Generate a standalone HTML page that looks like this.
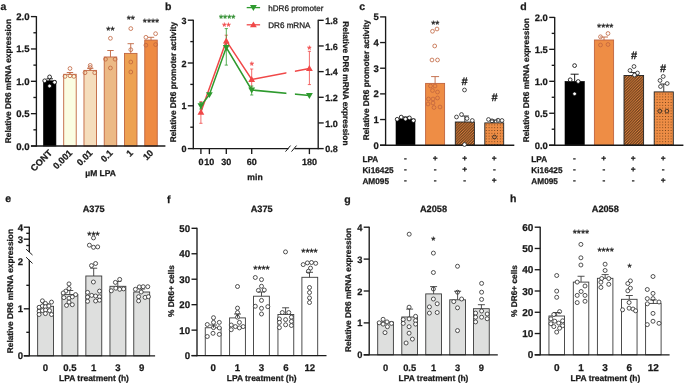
<!DOCTYPE html>
<html><head><meta charset="utf-8"><style>
html,body{margin:0;padding:0;background:#fff;}
svg{display:block;filter:blur(0.3px);}
text{font-family:"Liberation Sans", sans-serif;text-rendering:geometricPrecision;}
</style></head><body>
<svg width="685" height="384" viewBox="0 0 685 384">
<defs>
<pattern id="hatch" patternUnits="userSpaceOnUse" width="2.75" height="2.75">
<rect width="2.75" height="2.75" fill="#4a2a12"/>
<path d="M-0.7,3.45 L3.45,-0.7 M-0.7,0.7 L0.7,-0.7 M2.05,3.45 L3.45,2.05" stroke="#ec8c44" stroke-width="1.0"/></pattern>
<pattern id="dots" patternUnits="userSpaceOnUse" width="2.8" height="2.8" x="0.5" y="0.3">
<rect width="2.8" height="2.8" fill="#ee8d45"/><circle cx="1.4" cy="1.4" r="0.5" fill="#5a3210"/></pattern>
</defs>
<rect width="685" height="384" fill="#fff"/>
<text x="0.60" y="9.90" font-size="10.5" font-weight="bold" text-anchor="start" fill="#1a1a1a" stroke="#1a1a1a" stroke-width="0.25" >a</text>
<line x1="36.40" y1="16.10" x2="36.40" y2="146.55" stroke="#1a1a1a" stroke-width="1.35" />
<line x1="30.90" y1="146.00" x2="36.40" y2="146.00" stroke="#1a1a1a" stroke-width="1.35" />
<text x="29.50" y="149.50" font-size="9.6" font-weight="bold" text-anchor="end" fill="#1a1a1a" stroke="#1a1a1a" stroke-width="0.25" >0.0</text>
<line x1="30.90" y1="113.65" x2="36.40" y2="113.65" stroke="#1a1a1a" stroke-width="1.35" />
<text x="29.50" y="117.15" font-size="9.6" font-weight="bold" text-anchor="end" fill="#1a1a1a" stroke="#1a1a1a" stroke-width="0.25" >0.5</text>
<line x1="30.90" y1="81.30" x2="36.40" y2="81.30" stroke="#1a1a1a" stroke-width="1.35" />
<text x="29.50" y="84.80" font-size="9.6" font-weight="bold" text-anchor="end" fill="#1a1a1a" stroke="#1a1a1a" stroke-width="0.25" >1.0</text>
<line x1="30.90" y1="48.95" x2="36.40" y2="48.95" stroke="#1a1a1a" stroke-width="1.35" />
<text x="29.50" y="52.45" font-size="9.6" font-weight="bold" text-anchor="end" fill="#1a1a1a" stroke="#1a1a1a" stroke-width="0.25" >1.5</text>
<line x1="30.90" y1="16.60" x2="36.40" y2="16.60" stroke="#1a1a1a" stroke-width="1.35" />
<text x="29.50" y="20.10" font-size="9.6" font-weight="bold" text-anchor="end" fill="#1a1a1a" stroke="#1a1a1a" stroke-width="0.25" >2.0</text>
<line x1="33.40" y1="129.82" x2="36.40" y2="129.82" stroke="#1a1a1a" stroke-width="1.35" />
<line x1="33.40" y1="97.47" x2="36.40" y2="97.47" stroke="#1a1a1a" stroke-width="1.35" />
<line x1="33.40" y1="65.12" x2="36.40" y2="65.12" stroke="#1a1a1a" stroke-width="1.35" />
<line x1="33.40" y1="32.77" x2="36.40" y2="32.77" stroke="#1a1a1a" stroke-width="1.35" />
<text x="10.80" y="81.10" font-size="8.3" font-weight="bold" text-anchor="middle" fill="#1a1a1a" stroke="#1a1a1a" stroke-width="0.25" transform="rotate(-90 10.80 81.10)" >Relative DR6 mRNA expression</text>
<rect x="43.45" y="80.80" width="12.50" height="65.20" fill="#000" stroke="#000" stroke-width="0.6"/>
<line x1="49.70" y1="78.80" x2="49.70" y2="80.80" stroke="#000" stroke-width="0.9" />
<line x1="46.50" y1="78.80" x2="52.90" y2="78.80" stroke="#000" stroke-width="0.9" />
<rect x="63.71" y="74.30" width="12.50" height="71.70" fill="#fbfde2" stroke="#c0643f" stroke-width="0.9"/>
<line x1="69.96" y1="72.50" x2="69.96" y2="74.30" stroke="#c0643f" stroke-width="0.9" />
<line x1="66.76" y1="72.50" x2="73.16" y2="72.50" stroke="#c0643f" stroke-width="0.9" />
<rect x="83.97" y="70.40" width="12.50" height="75.60" fill="#f5ddbc" stroke="#c0643f" stroke-width="0.9"/>
<line x1="90.22" y1="68.30" x2="90.22" y2="70.40" stroke="#c0643f" stroke-width="0.9" />
<line x1="87.02" y1="68.30" x2="93.42" y2="68.30" stroke="#c0643f" stroke-width="0.9" />
<rect x="104.23" y="57.00" width="12.50" height="89.00" fill="#ecb985" stroke="#c0643f" stroke-width="0.9"/>
<line x1="110.48" y1="50.50" x2="110.48" y2="57.00" stroke="#c0643f" stroke-width="0.9" />
<line x1="107.28" y1="50.50" x2="113.68" y2="50.50" stroke="#c0643f" stroke-width="0.9" />
<rect x="124.49" y="53.40" width="12.50" height="92.60" fill="#eda152" stroke="#c0643f" stroke-width="0.9"/>
<line x1="130.74" y1="43.70" x2="130.74" y2="53.40" stroke="#c0643f" stroke-width="0.9" />
<line x1="127.54" y1="43.70" x2="133.94" y2="43.70" stroke="#c0643f" stroke-width="0.9" />
<rect x="144.75" y="40.10" width="12.50" height="105.90" fill="#ee8a43" stroke="#c0643f" stroke-width="0.9"/>
<line x1="151.00" y1="37.30" x2="151.00" y2="40.10" stroke="#c0643f" stroke-width="0.9" />
<line x1="147.80" y1="37.30" x2="154.20" y2="37.30" stroke="#c0643f" stroke-width="0.9" />
<circle cx="49.60" cy="76.90" r="1.9" fill="#fff" stroke="#000" stroke-width="0.8"/>
<circle cx="44.70" cy="80.80" r="1.9" fill="#fff" stroke="#000" stroke-width="0.8"/>
<circle cx="54.60" cy="82.30" r="1.9" fill="#fff" stroke="#000" stroke-width="0.8"/>
<circle cx="49.60" cy="86.00" r="1.9" fill="#fff" stroke="#000" stroke-width="0.8"/>
<circle cx="70.00" cy="68.50" r="1.9" fill="none" stroke="#c0643f" stroke-width="0.8"/>
<circle cx="65.00" cy="76.40" r="1.9" fill="none" stroke="#c0643f" stroke-width="0.8"/>
<circle cx="70.00" cy="75.80" r="1.9" fill="none" stroke="#c0643f" stroke-width="0.8"/>
<circle cx="73.90" cy="76.40" r="1.9" fill="none" stroke="#c0643f" stroke-width="0.8"/>
<circle cx="90.20" cy="65.40" r="1.9" fill="none" stroke="#c0643f" stroke-width="0.8"/>
<circle cx="90.20" cy="67.50" r="1.9" fill="none" stroke="#c0643f" stroke-width="0.8"/>
<circle cx="85.00" cy="72.70" r="1.9" fill="none" stroke="#c0643f" stroke-width="0.8"/>
<circle cx="94.70" cy="72.70" r="1.9" fill="none" stroke="#c0643f" stroke-width="0.8"/>
<circle cx="110.40" cy="38.30" r="1.9" fill="none" stroke="#c0643f" stroke-width="0.8"/>
<circle cx="105.50" cy="59.20" r="1.9" fill="none" stroke="#c0643f" stroke-width="0.8"/>
<circle cx="115.10" cy="59.20" r="1.9" fill="none" stroke="#c0643f" stroke-width="0.8"/>
<circle cx="110.40" cy="68.00" r="1.9" fill="none" stroke="#c0643f" stroke-width="0.8"/>
<circle cx="130.80" cy="28.60" r="1.9" fill="none" stroke="#c0643f" stroke-width="0.8"/>
<circle cx="130.80" cy="49.70" r="1.9" fill="none" stroke="#c0643f" stroke-width="0.8"/>
<circle cx="130.80" cy="62.00" r="1.9" fill="none" stroke="#c0643f" stroke-width="0.8"/>
<circle cx="130.80" cy="72.00" r="1.9" fill="none" stroke="#c0643f" stroke-width="0.8"/>
<circle cx="145.90" cy="37.30" r="1.9" fill="none" stroke="#c0643f" stroke-width="0.8"/>
<circle cx="155.60" cy="33.70" r="1.9" fill="none" stroke="#c0643f" stroke-width="0.8"/>
<circle cx="145.90" cy="45.20" r="1.9" fill="none" stroke="#c0643f" stroke-width="0.8"/>
<circle cx="155.60" cy="44.60" r="1.9" fill="none" stroke="#c0643f" stroke-width="0.8"/>
<line x1="31.00" y1="146.00" x2="165.40" y2="146.00" stroke="#1a1a1a" stroke-width="1.35" />
<text x="110.40" y="33.63" font-size="10.5" font-weight="normal" text-anchor="middle" fill="#1a1a1a" stroke="#1a1a1a" stroke-width="0.25" >**</text>
<text x="130.80" y="22.73" font-size="10.5" font-weight="normal" text-anchor="middle" fill="#1a1a1a" stroke="#1a1a1a" stroke-width="0.25" >**</text>
<text x="151.00" y="26.43" font-size="10.5" font-weight="normal" text-anchor="middle" fill="#1a1a1a" stroke="#1a1a1a" stroke-width="0.25" >****</text>
<text x="52.70" y="153.60" font-size="9.2" font-weight="bold" text-anchor="end" fill="#1a1a1a" stroke="#1a1a1a" stroke-width="0.25" transform="rotate(-45 52.70 153.60)" >CONT</text>
<text x="72.96" y="153.60" font-size="9.2" font-weight="bold" text-anchor="end" fill="#1a1a1a" stroke="#1a1a1a" stroke-width="0.25" transform="rotate(-45 72.96 153.60)" >0.001</text>
<text x="93.22" y="153.60" font-size="9.2" font-weight="bold" text-anchor="end" fill="#1a1a1a" stroke="#1a1a1a" stroke-width="0.25" transform="rotate(-45 93.22 153.60)" >0.01</text>
<text x="113.48" y="153.60" font-size="9.2" font-weight="bold" text-anchor="end" fill="#1a1a1a" stroke="#1a1a1a" stroke-width="0.25" transform="rotate(-45 113.48 153.60)" >0.1</text>
<text x="133.74" y="153.60" font-size="9.2" font-weight="bold" text-anchor="end" fill="#1a1a1a" stroke="#1a1a1a" stroke-width="0.25" transform="rotate(-45 133.74 153.60)" >1</text>
<text x="154.00" y="153.60" font-size="9.2" font-weight="bold" text-anchor="end" fill="#1a1a1a" stroke="#1a1a1a" stroke-width="0.25" transform="rotate(-45 154.00 153.60)" >10</text>
<text x="100.60" y="176.00" font-size="8.5" font-weight="bold" text-anchor="middle" fill="#1a1a1a" stroke="#1a1a1a" stroke-width="0.25" >µM LPA</text>
<text x="165.00" y="9.90" font-size="10.5" font-weight="bold" text-anchor="start" fill="#1a1a1a" stroke="#1a1a1a" stroke-width="0.25" >b</text>
<line x1="193.30" y1="19.70" x2="193.30" y2="149.15" stroke="#1a1a1a" stroke-width="1.35" />
<line x1="187.80" y1="148.60" x2="193.30" y2="148.60" stroke="#1a1a1a" stroke-width="1.35" />
<text x="186.40" y="152.10" font-size="9.0" font-weight="bold" text-anchor="end" fill="#1a1a1a" stroke="#1a1a1a" stroke-width="0.25" >0</text>
<line x1="187.80" y1="105.80" x2="193.30" y2="105.80" stroke="#1a1a1a" stroke-width="1.35" />
<text x="186.40" y="109.30" font-size="9.0" font-weight="bold" text-anchor="end" fill="#1a1a1a" stroke="#1a1a1a" stroke-width="0.25" >1</text>
<line x1="187.80" y1="63.00" x2="193.30" y2="63.00" stroke="#1a1a1a" stroke-width="1.35" />
<text x="186.40" y="66.50" font-size="9.0" font-weight="bold" text-anchor="end" fill="#1a1a1a" stroke="#1a1a1a" stroke-width="0.25" >2</text>
<line x1="187.80" y1="20.20" x2="193.30" y2="20.20" stroke="#1a1a1a" stroke-width="1.35" />
<text x="186.40" y="23.70" font-size="9.0" font-weight="bold" text-anchor="end" fill="#1a1a1a" stroke="#1a1a1a" stroke-width="0.25" >3</text>
<line x1="190.30" y1="127.20" x2="193.30" y2="127.20" stroke="#1a1a1a" stroke-width="1.35" />
<line x1="190.30" y1="84.40" x2="193.30" y2="84.40" stroke="#1a1a1a" stroke-width="1.35" />
<line x1="190.30" y1="41.60" x2="193.30" y2="41.60" stroke="#1a1a1a" stroke-width="1.35" />
<line x1="318.20" y1="19.80" x2="318.20" y2="149.15" stroke="#1a1a1a" stroke-width="1.35" />
<line x1="318.20" y1="148.60" x2="323.70" y2="148.60" stroke="#1a1a1a" stroke-width="1.35" />
<text x="325.20" y="152.20" font-size="9.0" font-weight="bold" text-anchor="start" fill="#1a1a1a" stroke="#1a1a1a" stroke-width="0.25" >0.8</text>
<line x1="318.20" y1="122.94" x2="323.70" y2="122.94" stroke="#1a1a1a" stroke-width="1.35" />
<text x="325.20" y="126.54" font-size="9.0" font-weight="bold" text-anchor="start" fill="#1a1a1a" stroke="#1a1a1a" stroke-width="0.25" >1.0</text>
<line x1="318.20" y1="97.28" x2="323.70" y2="97.28" stroke="#1a1a1a" stroke-width="1.35" />
<text x="325.20" y="100.88" font-size="9.0" font-weight="bold" text-anchor="start" fill="#1a1a1a" stroke="#1a1a1a" stroke-width="0.25" >1.2</text>
<line x1="318.20" y1="71.62" x2="323.70" y2="71.62" stroke="#1a1a1a" stroke-width="1.35" />
<text x="325.20" y="75.22" font-size="9.0" font-weight="bold" text-anchor="start" fill="#1a1a1a" stroke="#1a1a1a" stroke-width="0.25" >1.4</text>
<line x1="318.20" y1="45.96" x2="323.70" y2="45.96" stroke="#1a1a1a" stroke-width="1.35" />
<text x="325.20" y="49.56" font-size="9.0" font-weight="bold" text-anchor="start" fill="#1a1a1a" stroke="#1a1a1a" stroke-width="0.25" >1.6</text>
<line x1="318.20" y1="20.30" x2="323.70" y2="20.30" stroke="#1a1a1a" stroke-width="1.35" />
<text x="325.20" y="23.90" font-size="9.0" font-weight="bold" text-anchor="start" fill="#1a1a1a" stroke="#1a1a1a" stroke-width="0.25" >1.8</text>
<line x1="193.30" y1="148.60" x2="288.50" y2="148.60" stroke="#1a1a1a" stroke-width="1.35" />
<line x1="294.50" y1="148.60" x2="318.20" y2="148.60" stroke="#1a1a1a" stroke-width="1.35" />
<line x1="285.50" y1="151.60" x2="290.50" y2="145.60" stroke="#1a1a1a" stroke-width="1.0" />
<line x1="291.50" y1="151.60" x2="296.50" y2="145.60" stroke="#1a1a1a" stroke-width="1.0" />
<line x1="200.90" y1="148.60" x2="200.90" y2="154.10" stroke="#1a1a1a" stroke-width="1.35" />
<line x1="209.37" y1="148.60" x2="209.37" y2="154.10" stroke="#1a1a1a" stroke-width="1.35" />
<line x1="226.30" y1="148.60" x2="226.30" y2="154.10" stroke="#1a1a1a" stroke-width="1.35" />
<line x1="251.70" y1="148.60" x2="251.70" y2="154.10" stroke="#1a1a1a" stroke-width="1.35" />
<line x1="309.40" y1="148.60" x2="309.40" y2="154.10" stroke="#1a1a1a" stroke-width="1.35" />
<text x="200.90" y="165.10" font-size="9.0" font-weight="bold" text-anchor="middle" fill="#1a1a1a" stroke="#1a1a1a" stroke-width="0.25" >0</text>
<text x="209.37" y="165.10" font-size="9.0" font-weight="bold" text-anchor="middle" fill="#1a1a1a" stroke="#1a1a1a" stroke-width="0.25" >10</text>
<text x="226.30" y="165.10" font-size="9.0" font-weight="bold" text-anchor="middle" fill="#1a1a1a" stroke="#1a1a1a" stroke-width="0.25" >30</text>
<text x="251.70" y="165.10" font-size="9.0" font-weight="bold" text-anchor="middle" fill="#1a1a1a" stroke="#1a1a1a" stroke-width="0.25" >60</text>
<text x="309.40" y="165.10" font-size="9.0" font-weight="bold" text-anchor="middle" fill="#1a1a1a" stroke="#1a1a1a" stroke-width="0.25" >180</text>
<text x="255.00" y="179.50" font-size="8.6" font-weight="bold" text-anchor="middle" fill="#1a1a1a" stroke="#1a1a1a" stroke-width="0.25" >min</text>
<text x="176.50" y="82.10" font-size="8.3" font-weight="bold" text-anchor="middle" fill="#1a1a1a" stroke="#1a1a1a" stroke-width="0.25" transform="rotate(-90 176.50 82.10)" >Relative DR6 promoter activity</text>
<text x="343.00" y="83.40" font-size="8.3" font-weight="bold" text-anchor="middle" fill="#1a1a1a" stroke="#1a1a1a" stroke-width="0.25" transform="rotate(90 343.00 83.40)" >Relative DR6 mRNA expression</text>
<polyline points="200.90,112.1 226.30,40.9 251.70,79.4 309.40,68.5" fill="none" stroke="#f04848" stroke-width="1.5"/>
<polyline points="200.90,105.8 209.37,94.7 226.30,47.6 251.70,90.0 309.40,95.5" fill="none" stroke="#2e9a2e" stroke-width="1.5"/>
<rect x="286.4" y="60" width="8.5" height="42" fill="#fff"/>
<line x1="200.90" y1="101.70" x2="200.90" y2="123.30" stroke="#f04848" stroke-width="0.8" />
<line x1="199.30" y1="101.70" x2="202.50" y2="101.70" stroke="#f04848" stroke-width="0.8" />
<line x1="199.30" y1="123.30" x2="202.50" y2="123.30" stroke="#f04848" stroke-width="0.8" />
<line x1="226.30" y1="35.20" x2="226.30" y2="46.00" stroke="#f04848" stroke-width="0.8" />
<line x1="224.70" y1="35.20" x2="227.90" y2="35.20" stroke="#f04848" stroke-width="0.8" />
<line x1="224.70" y1="46.00" x2="227.90" y2="46.00" stroke="#f04848" stroke-width="0.8" />
<line x1="251.70" y1="69.00" x2="251.70" y2="90.00" stroke="#f04848" stroke-width="0.8" />
<line x1="250.10" y1="69.00" x2="253.30" y2="69.00" stroke="#f04848" stroke-width="0.8" />
<line x1="250.10" y1="90.00" x2="253.30" y2="90.00" stroke="#f04848" stroke-width="0.8" />
<line x1="309.40" y1="51.30" x2="309.40" y2="84.60" stroke="#f04848" stroke-width="0.8" />
<line x1="307.80" y1="51.30" x2="311.00" y2="51.30" stroke="#f04848" stroke-width="0.8" />
<line x1="307.80" y1="84.60" x2="311.00" y2="84.60" stroke="#f04848" stroke-width="0.8" />
<line x1="226.30" y1="28.60" x2="226.30" y2="65.10" stroke="#2e9a2e" stroke-width="0.8" />
<line x1="224.70" y1="28.60" x2="227.90" y2="28.60" stroke="#2e9a2e" stroke-width="0.8" />
<line x1="224.70" y1="65.10" x2="227.90" y2="65.10" stroke="#2e9a2e" stroke-width="0.8" />
<line x1="200.90" y1="102.50" x2="200.90" y2="109.00" stroke="#2e9a2e" stroke-width="0.8" />
<line x1="199.30" y1="102.50" x2="202.50" y2="102.50" stroke="#2e9a2e" stroke-width="0.8" />
<line x1="199.30" y1="109.00" x2="202.50" y2="109.00" stroke="#2e9a2e" stroke-width="0.8" />
<line x1="251.70" y1="86.00" x2="251.70" y2="95.00" stroke="#2e9a2e" stroke-width="0.8" />
<line x1="250.10" y1="86.00" x2="253.30" y2="86.00" stroke="#2e9a2e" stroke-width="0.8" />
<line x1="250.10" y1="95.00" x2="253.30" y2="95.00" stroke="#2e9a2e" stroke-width="0.8" />
<path d="M197.50,114.65 L204.30,114.65 L200.90,108.70 Z" fill="#f04848"/>
<path d="M222.90,43.45 L229.70,43.45 L226.30,37.50 Z" fill="#f04848"/>
<path d="M248.30,81.95 L255.10,81.95 L251.70,76.00 Z" fill="#f04848"/>
<path d="M306.00,71.05 L312.80,71.05 L309.40,65.10 Z" fill="#f04848"/>
<path d="M197.50,103.25 L204.30,103.25 L200.90,109.20 Z" fill="#2e9a2e"/>
<path d="M205.97,92.15 L212.77,92.15 L209.37,98.10 Z" fill="#2e9a2e"/>
<path d="M222.90,45.05 L229.70,45.05 L226.30,51.00 Z" fill="#2e9a2e"/>
<path d="M248.30,87.45 L255.10,87.45 L251.70,93.40 Z" fill="#2e9a2e"/>
<path d="M306.00,92.95 L312.80,92.95 L309.40,98.90 Z" fill="#2e9a2e"/>
<text x="227.20" y="21.68" font-size="10.5" font-weight="normal" text-anchor="middle" fill="#2a8a2a" stroke="#2a8a2a" stroke-width="0.25" >****</text>
<text x="226.40" y="30.43" font-size="10.5" font-weight="normal" text-anchor="middle" fill="#f04848" stroke="#f04848" stroke-width="0.25" >**</text>
<text x="251.80" y="69.33" font-size="10.5" font-weight="normal" text-anchor="middle" fill="#f04848" stroke="#f04848" stroke-width="0.25" >*</text>
<text x="309.40" y="52.93" font-size="10.5" font-weight="normal" text-anchor="middle" fill="#f04848" stroke="#f04848" stroke-width="0.25" >*</text>
<line x1="246.70" y1="7.60" x2="260.10" y2="7.60" stroke="#2e9a2e" stroke-width="1.3" />
<path d="M250.00,5.05 L256.80,5.05 L253.40,11.00 Z" fill="#2e9a2e"/>
<text x="268.20" y="11.30" font-size="8.1" font-weight="normal" text-anchor="start" fill="#1a1a1a" stroke="#1a1a1a" stroke-width="0.25" >hDR6 promoter</text>
<line x1="246.70" y1="24.80" x2="260.10" y2="24.80" stroke="#f04848" stroke-width="1.3" />
<path d="M250.00,27.35 L256.80,27.35 L253.40,21.40 Z" fill="#f04848"/>
<text x="268.20" y="28.20" font-size="8.1" font-weight="normal" text-anchor="start" fill="#1a1a1a" stroke="#1a1a1a" stroke-width="0.25" >DR6 mRNA</text>
<text x="359.20" y="9.60" font-size="10.5" font-weight="bold" text-anchor="start" fill="#1a1a1a" stroke="#1a1a1a" stroke-width="0.25" >c</text>
<line x1="385.60" y1="16.40" x2="385.60" y2="145.75" stroke="#1a1a1a" stroke-width="1.35" />
<line x1="380.10" y1="145.20" x2="385.60" y2="145.20" stroke="#1a1a1a" stroke-width="1.35" />
<text x="378.70" y="148.70" font-size="9.5" font-weight="bold" text-anchor="end" fill="#1a1a1a" stroke="#1a1a1a" stroke-width="0.25" >0</text>
<line x1="380.10" y1="119.54" x2="385.60" y2="119.54" stroke="#1a1a1a" stroke-width="1.35" />
<text x="378.70" y="123.04" font-size="9.5" font-weight="bold" text-anchor="end" fill="#1a1a1a" stroke="#1a1a1a" stroke-width="0.25" >1</text>
<line x1="380.10" y1="93.88" x2="385.60" y2="93.88" stroke="#1a1a1a" stroke-width="1.35" />
<text x="378.70" y="97.38" font-size="9.5" font-weight="bold" text-anchor="end" fill="#1a1a1a" stroke="#1a1a1a" stroke-width="0.25" >2</text>
<line x1="380.10" y1="68.22" x2="385.60" y2="68.22" stroke="#1a1a1a" stroke-width="1.35" />
<text x="378.70" y="71.72" font-size="9.5" font-weight="bold" text-anchor="end" fill="#1a1a1a" stroke="#1a1a1a" stroke-width="0.25" >3</text>
<line x1="380.10" y1="42.56" x2="385.60" y2="42.56" stroke="#1a1a1a" stroke-width="1.35" />
<text x="378.70" y="46.06" font-size="9.5" font-weight="bold" text-anchor="end" fill="#1a1a1a" stroke="#1a1a1a" stroke-width="0.25" >4</text>
<line x1="380.10" y1="16.90" x2="385.60" y2="16.90" stroke="#1a1a1a" stroke-width="1.35" />
<text x="378.70" y="20.40" font-size="9.5" font-weight="bold" text-anchor="end" fill="#1a1a1a" stroke="#1a1a1a" stroke-width="0.25" >5</text>
<text x="368.70" y="80.10" font-size="8.3" font-weight="bold" text-anchor="middle" fill="#1a1a1a" stroke="#1a1a1a" stroke-width="0.25" transform="rotate(-90 368.70 80.10)" >Relative DR6 promoter activity</text>
<rect x="396.00" y="119.00" width="19.00" height="26.20" fill="#000" stroke="#000" stroke-width="0.6"/>
<line x1="405.50" y1="117.00" x2="405.50" y2="119.00" stroke="#000" stroke-width="0.9" />
<line x1="401.50" y1="117.00" x2="409.50" y2="117.00" stroke="#000" stroke-width="0.9" />
<rect x="425.60" y="83.40" width="19.00" height="61.80" fill="#ee8d45" stroke="#c0643f" stroke-width="0.9"/>
<line x1="435.10" y1="76.60" x2="435.10" y2="83.40" stroke="#c0643f" stroke-width="0.9" />
<line x1="431.10" y1="76.60" x2="439.10" y2="76.60" stroke="#c0643f" stroke-width="0.9" />
<rect x="455.30" y="122.00" width="19.10" height="23.20" fill="url(#hatch)" stroke="#222" stroke-width="0.9"/>
<line x1="464.85" y1="116.00" x2="464.85" y2="122.00" stroke="#222" stroke-width="0.9" />
<line x1="460.85" y1="116.00" x2="468.85" y2="116.00" stroke="#222" stroke-width="0.9" />
<rect x="484.80" y="122.90" width="18.90" height="22.30" fill="url(#dots)" stroke="#222" stroke-width="0.9"/>
<line x1="494.25" y1="120.00" x2="494.25" y2="122.90" stroke="#222" stroke-width="0.9" />
<line x1="490.25" y1="120.00" x2="498.25" y2="120.00" stroke="#222" stroke-width="0.9" />
<line x1="380.00" y1="145.20" x2="514.30" y2="145.20" stroke="#1a1a1a" stroke-width="1.35" />
<circle cx="397.20" cy="119.30" r="1.9" fill="#fff" stroke="#000" stroke-width="0.8"/>
<circle cx="401.20" cy="117.10" r="1.9" fill="#fff" stroke="#000" stroke-width="0.8"/>
<circle cx="405.50" cy="119.00" r="1.9" fill="#fff" stroke="#000" stroke-width="0.8"/>
<circle cx="409.40" cy="117.90" r="1.9" fill="#fff" stroke="#000" stroke-width="0.8"/>
<circle cx="413.40" cy="120.60" r="1.9" fill="#fff" stroke="#000" stroke-width="0.8"/>
<circle cx="432.50" cy="31.30" r="1.9" fill="none" stroke="#c0643f" stroke-width="0.8"/>
<circle cx="437.00" cy="29.00" r="1.9" fill="none" stroke="#c0643f" stroke-width="0.8"/>
<circle cx="434.70" cy="46.00" r="1.9" fill="none" stroke="#c0643f" stroke-width="0.8"/>
<circle cx="432.00" cy="60.00" r="1.9" fill="none" stroke="#c0643f" stroke-width="0.8"/>
<circle cx="437.50" cy="60.00" r="1.9" fill="none" stroke="#c0643f" stroke-width="0.8"/>
<circle cx="430.50" cy="86.00" r="1.9" fill="none" stroke="#c0643f" stroke-width="0.8"/>
<circle cx="435.00" cy="86.00" r="1.9" fill="none" stroke="#c0643f" stroke-width="0.8"/>
<circle cx="432.50" cy="90.50" r="1.9" fill="none" stroke="#c0643f" stroke-width="0.8"/>
<circle cx="437.50" cy="92.00" r="1.9" fill="none" stroke="#c0643f" stroke-width="0.8"/>
<circle cx="428.50" cy="99.00" r="1.9" fill="none" stroke="#c0643f" stroke-width="0.8"/>
<circle cx="433.00" cy="99.00" r="1.9" fill="none" stroke="#c0643f" stroke-width="0.8"/>
<circle cx="437.50" cy="98.00" r="1.9" fill="none" stroke="#c0643f" stroke-width="0.8"/>
<circle cx="433.00" cy="103.00" r="1.9" fill="none" stroke="#c0643f" stroke-width="0.8"/>
<circle cx="428.00" cy="104.00" r="1.9" fill="none" stroke="#c0643f" stroke-width="0.8"/>
<circle cx="434.00" cy="107.50" r="1.9" fill="none" stroke="#c0643f" stroke-width="0.8"/>
<circle cx="440.00" cy="107.00" r="1.9" fill="none" stroke="#c0643f" stroke-width="0.8"/>
<circle cx="456.50" cy="117.00" r="1.9" fill="#fff" stroke="#222" stroke-width="0.8"/>
<circle cx="461.50" cy="114.50" r="1.9" fill="#fff" stroke="#222" stroke-width="0.8"/>
<circle cx="467.00" cy="118.50" r="1.9" fill="#fff" stroke="#222" stroke-width="0.8"/>
<circle cx="472.30" cy="120.50" r="1.9" fill="#fff" stroke="#222" stroke-width="0.8"/>
<circle cx="464.50" cy="90.00" r="1.9" fill="#fff" stroke="#222" stroke-width="0.8"/>
<circle cx="464.50" cy="144.50" r="1.9" fill="#fff" stroke="#222" stroke-width="0.8"/>
<circle cx="488.50" cy="119.50" r="1.9" fill="none" stroke="#222" stroke-width="0.8"/>
<circle cx="492.00" cy="120.80" r="1.9" fill="none" stroke="#222" stroke-width="0.8"/>
<circle cx="498.00" cy="120.20" r="1.9" fill="none" stroke="#222" stroke-width="0.8"/>
<circle cx="502.00" cy="120.50" r="1.9" fill="none" stroke="#222" stroke-width="0.8"/>
<circle cx="494.50" cy="137.00" r="1.9" fill="none" stroke="#222" stroke-width="0.8"/>
<text x="464.60" y="84.70" font-size="11" font-weight="bold" text-anchor="middle" fill="#1a1a1a" stroke="#1a1a1a" stroke-width="0.25" >#</text>
<text x="494.50" y="100.70" font-size="11" font-weight="bold" text-anchor="middle" fill="#1a1a1a" stroke="#1a1a1a" stroke-width="0.25" >#</text>
<text x="435.30" y="27.93" font-size="10.5" font-weight="normal" text-anchor="middle" fill="#1a1a1a" stroke="#1a1a1a" stroke-width="0.25" >**</text>
<text x="362.40" y="162.40" font-size="8.25" font-weight="bold" text-anchor="start" fill="#1a1a1a" stroke="#1a1a1a" stroke-width="0.25" >LPA</text>
<text x="405.50" y="161.20" font-size="8.3" font-weight="bold" text-anchor="middle" fill="#1a1a1a" stroke="#1a1a1a" stroke-width="0.25" >-</text>
<text x="435.20" y="161.20" font-size="8.3" font-weight="bold" text-anchor="middle" fill="#1a1a1a" stroke="#1a1a1a" stroke-width="0.25" >+</text>
<text x="464.60" y="161.20" font-size="8.3" font-weight="bold" text-anchor="middle" fill="#1a1a1a" stroke="#1a1a1a" stroke-width="0.25" >+</text>
<text x="494.30" y="161.20" font-size="8.3" font-weight="bold" text-anchor="middle" fill="#1a1a1a" stroke="#1a1a1a" stroke-width="0.25" >+</text>
<text x="362.40" y="173.00" font-size="8.25" font-weight="bold" text-anchor="start" fill="#1a1a1a" stroke="#1a1a1a" stroke-width="0.25" >Ki16425</text>
<text x="405.50" y="171.80" font-size="8.3" font-weight="bold" text-anchor="middle" fill="#1a1a1a" stroke="#1a1a1a" stroke-width="0.25" >-</text>
<text x="435.20" y="171.80" font-size="8.3" font-weight="bold" text-anchor="middle" fill="#1a1a1a" stroke="#1a1a1a" stroke-width="0.25" >-</text>
<text x="464.60" y="171.80" font-size="8.3" font-weight="bold" text-anchor="middle" fill="#1a1a1a" stroke="#1a1a1a" stroke-width="0.25" >+</text>
<text x="494.30" y="171.80" font-size="8.3" font-weight="bold" text-anchor="middle" fill="#1a1a1a" stroke="#1a1a1a" stroke-width="0.25" >-</text>
<text x="362.40" y="184.40" font-size="8.25" font-weight="bold" text-anchor="start" fill="#1a1a1a" stroke="#1a1a1a" stroke-width="0.25" >AM095</text>
<text x="405.50" y="183.20" font-size="8.3" font-weight="bold" text-anchor="middle" fill="#1a1a1a" stroke="#1a1a1a" stroke-width="0.25" >-</text>
<text x="435.20" y="183.20" font-size="8.3" font-weight="bold" text-anchor="middle" fill="#1a1a1a" stroke="#1a1a1a" stroke-width="0.25" >-</text>
<text x="464.60" y="183.20" font-size="8.3" font-weight="bold" text-anchor="middle" fill="#1a1a1a" stroke="#1a1a1a" stroke-width="0.25" >-</text>
<text x="494.30" y="183.20" font-size="8.3" font-weight="bold" text-anchor="middle" fill="#1a1a1a" stroke="#1a1a1a" stroke-width="0.25" >+</text>
<text x="520.30" y="9.90" font-size="10.5" font-weight="bold" text-anchor="start" fill="#1a1a1a" stroke="#1a1a1a" stroke-width="0.25" >d</text>
<line x1="554.70" y1="16.90" x2="554.70" y2="145.75" stroke="#1a1a1a" stroke-width="1.35" />
<line x1="549.20" y1="145.20" x2="554.70" y2="145.20" stroke="#1a1a1a" stroke-width="1.35" />
<text x="547.80" y="148.70" font-size="9.45" font-weight="bold" text-anchor="end" fill="#1a1a1a" stroke="#1a1a1a" stroke-width="0.25" >0.0</text>
<line x1="549.20" y1="113.25" x2="554.70" y2="113.25" stroke="#1a1a1a" stroke-width="1.35" />
<text x="547.80" y="116.75" font-size="9.45" font-weight="bold" text-anchor="end" fill="#1a1a1a" stroke="#1a1a1a" stroke-width="0.25" >0.5</text>
<line x1="549.20" y1="81.30" x2="554.70" y2="81.30" stroke="#1a1a1a" stroke-width="1.35" />
<text x="547.80" y="84.80" font-size="9.45" font-weight="bold" text-anchor="end" fill="#1a1a1a" stroke="#1a1a1a" stroke-width="0.25" >1.0</text>
<line x1="549.20" y1="49.35" x2="554.70" y2="49.35" stroke="#1a1a1a" stroke-width="1.35" />
<text x="547.80" y="52.85" font-size="9.45" font-weight="bold" text-anchor="end" fill="#1a1a1a" stroke="#1a1a1a" stroke-width="0.25" >1.5</text>
<line x1="549.20" y1="17.40" x2="554.70" y2="17.40" stroke="#1a1a1a" stroke-width="1.35" />
<text x="547.80" y="20.90" font-size="9.45" font-weight="bold" text-anchor="end" fill="#1a1a1a" stroke="#1a1a1a" stroke-width="0.25" >2.0</text>
<line x1="551.70" y1="129.22" x2="554.70" y2="129.22" stroke="#1a1a1a" stroke-width="1.35" />
<line x1="551.70" y1="97.27" x2="554.70" y2="97.27" stroke="#1a1a1a" stroke-width="1.35" />
<line x1="551.70" y1="65.33" x2="554.70" y2="65.33" stroke="#1a1a1a" stroke-width="1.35" />
<line x1="551.70" y1="33.38" x2="554.70" y2="33.38" stroke="#1a1a1a" stroke-width="1.35" />
<text x="529.50" y="80.20" font-size="8.3" font-weight="bold" text-anchor="middle" fill="#1a1a1a" stroke="#1a1a1a" stroke-width="0.25" transform="rotate(-90 529.50 80.20)" >Relative DR6 mRNA expression</text>
<rect x="565.00" y="81.40" width="19.30" height="63.80" fill="#000" stroke="#000" stroke-width="0.6"/>
<line x1="574.65" y1="74.20" x2="574.65" y2="81.40" stroke="#000" stroke-width="0.9" />
<line x1="570.65" y1="74.20" x2="578.65" y2="74.20" stroke="#000" stroke-width="0.9" />
<rect x="594.40" y="40.00" width="19.20" height="105.20" fill="#ee8d45" stroke="#c0643f" stroke-width="0.9"/>
<line x1="604.00" y1="37.00" x2="604.00" y2="40.00" stroke="#c0643f" stroke-width="0.9" />
<line x1="600.00" y1="37.00" x2="608.00" y2="37.00" stroke="#c0643f" stroke-width="0.9" />
<rect x="624.00" y="75.50" width="19.60" height="69.70" fill="url(#hatch)" stroke="#222" stroke-width="0.9"/>
<line x1="633.80" y1="72.50" x2="633.80" y2="75.50" stroke="#222" stroke-width="0.9" />
<line x1="629.80" y1="72.50" x2="637.80" y2="72.50" stroke="#222" stroke-width="0.9" />
<rect x="654.20" y="91.90" width="19.10" height="53.30" fill="url(#dots)" stroke="#222" stroke-width="0.9"/>
<line x1="663.75" y1="84.00" x2="663.75" y2="91.90" stroke="#222" stroke-width="0.9" />
<line x1="659.75" y1="84.00" x2="667.75" y2="84.00" stroke="#222" stroke-width="0.9" />
<line x1="549.00" y1="145.20" x2="683.40" y2="145.20" stroke="#1a1a1a" stroke-width="1.35" />
<circle cx="574.60" cy="65.60" r="1.9" fill="#fff" stroke="#000" stroke-width="0.8"/>
<circle cx="570.20" cy="79.80" r="1.9" fill="#fff" stroke="#000" stroke-width="0.8"/>
<circle cx="578.20" cy="81.50" r="1.9" fill="#fff" stroke="#000" stroke-width="0.8"/>
<circle cx="574.60" cy="93.80" r="1.9" fill="#fff" stroke="#000" stroke-width="0.8"/>
<circle cx="600.50" cy="36.80" r="1.9" fill="none" stroke="#c0643f" stroke-width="0.8"/>
<circle cx="608.00" cy="33.50" r="1.9" fill="none" stroke="#c0643f" stroke-width="0.8"/>
<circle cx="600.50" cy="45.00" r="1.9" fill="none" stroke="#c0643f" stroke-width="0.8"/>
<circle cx="608.00" cy="44.50" r="1.9" fill="none" stroke="#c0643f" stroke-width="0.8"/>
<circle cx="634.00" cy="66.50" r="1.9" fill="#fff" stroke="#222" stroke-width="0.8"/>
<circle cx="630.00" cy="70.50" r="1.9" fill="#fff" stroke="#222" stroke-width="0.8"/>
<circle cx="637.50" cy="73.00" r="1.9" fill="#fff" stroke="#222" stroke-width="0.8"/>
<circle cx="634.50" cy="75.00" r="1.9" fill="#fff" stroke="#222" stroke-width="0.8"/>
<circle cx="663.20" cy="76.50" r="1.9" fill="#fff" stroke="#222" stroke-width="0.8"/>
<circle cx="660.00" cy="80.50" r="1.9" fill="#fff" stroke="#222" stroke-width="0.8"/>
<circle cx="667.20" cy="83.50" r="1.9" fill="#fff" stroke="#222" stroke-width="0.8"/>
<circle cx="660.50" cy="86.50" r="1.9" fill="#fff" stroke="#222" stroke-width="0.8"/>
<circle cx="659.80" cy="111.10" r="1.9" fill="none" stroke="#222" stroke-width="0.8"/>
<circle cx="666.90" cy="111.10" r="1.9" fill="none" stroke="#222" stroke-width="0.8"/>
<text x="634.00" y="58.50" font-size="11" font-weight="bold" text-anchor="middle" fill="#1a1a1a" stroke="#1a1a1a" stroke-width="0.25" >#</text>
<text x="663.00" y="72.00" font-size="11" font-weight="bold" text-anchor="middle" fill="#1a1a1a" stroke="#1a1a1a" stroke-width="0.25" >#</text>
<text x="605.30" y="30.73" font-size="10.5" font-weight="normal" text-anchor="middle" fill="#1a1a1a" stroke="#1a1a1a" stroke-width="0.25" >****</text>
<text x="531.30" y="162.40" font-size="8.25" font-weight="bold" text-anchor="start" fill="#1a1a1a" stroke="#1a1a1a" stroke-width="0.25" >LPA</text>
<text x="574.50" y="161.20" font-size="8.3" font-weight="bold" text-anchor="middle" fill="#1a1a1a" stroke="#1a1a1a" stroke-width="0.25" >-</text>
<text x="603.80" y="161.20" font-size="8.3" font-weight="bold" text-anchor="middle" fill="#1a1a1a" stroke="#1a1a1a" stroke-width="0.25" >+</text>
<text x="633.20" y="161.20" font-size="8.3" font-weight="bold" text-anchor="middle" fill="#1a1a1a" stroke="#1a1a1a" stroke-width="0.25" >+</text>
<text x="663.10" y="161.20" font-size="8.3" font-weight="bold" text-anchor="middle" fill="#1a1a1a" stroke="#1a1a1a" stroke-width="0.25" >+</text>
<text x="531.30" y="173.00" font-size="8.25" font-weight="bold" text-anchor="start" fill="#1a1a1a" stroke="#1a1a1a" stroke-width="0.25" >Ki16425</text>
<text x="574.50" y="171.80" font-size="8.3" font-weight="bold" text-anchor="middle" fill="#1a1a1a" stroke="#1a1a1a" stroke-width="0.25" >-</text>
<text x="603.80" y="171.80" font-size="8.3" font-weight="bold" text-anchor="middle" fill="#1a1a1a" stroke="#1a1a1a" stroke-width="0.25" >-</text>
<text x="633.20" y="171.80" font-size="8.3" font-weight="bold" text-anchor="middle" fill="#1a1a1a" stroke="#1a1a1a" stroke-width="0.25" >+</text>
<text x="663.10" y="171.80" font-size="8.3" font-weight="bold" text-anchor="middle" fill="#1a1a1a" stroke="#1a1a1a" stroke-width="0.25" >-</text>
<text x="531.30" y="184.40" font-size="8.25" font-weight="bold" text-anchor="start" fill="#1a1a1a" stroke="#1a1a1a" stroke-width="0.25" >AM095</text>
<text x="574.50" y="183.20" font-size="8.3" font-weight="bold" text-anchor="middle" fill="#1a1a1a" stroke="#1a1a1a" stroke-width="0.25" >-</text>
<text x="603.80" y="183.20" font-size="8.3" font-weight="bold" text-anchor="middle" fill="#1a1a1a" stroke="#1a1a1a" stroke-width="0.25" >-</text>
<text x="633.20" y="183.20" font-size="8.3" font-weight="bold" text-anchor="middle" fill="#1a1a1a" stroke="#1a1a1a" stroke-width="0.25" >-</text>
<text x="663.10" y="183.20" font-size="8.3" font-weight="bold" text-anchor="middle" fill="#1a1a1a" stroke="#1a1a1a" stroke-width="0.25" >+</text>
<text x="5.30" y="202.30" font-size="10.5" font-weight="bold" text-anchor="start" fill="#1a1a1a" stroke="#1a1a1a" stroke-width="0.25" >e</text>
<line x1="29.30" y1="259.80" x2="29.30" y2="356.35" stroke="#1a1a1a" stroke-width="1.35" />
<line x1="29.30" y1="226.70" x2="29.30" y2="252.00" stroke="#1a1a1a" stroke-width="1.35" />
<line x1="23.80" y1="355.80" x2="29.30" y2="355.80" stroke="#1a1a1a" stroke-width="1.35" />
<text x="23.00" y="359.40" font-size="9.6" font-weight="bold" text-anchor="end" fill="#1a1a1a" stroke="#1a1a1a" stroke-width="0.25" >0</text>
<line x1="23.80" y1="308.80" x2="29.30" y2="308.80" stroke="#1a1a1a" stroke-width="1.35" />
<text x="23.00" y="312.40" font-size="9.6" font-weight="bold" text-anchor="end" fill="#1a1a1a" stroke="#1a1a1a" stroke-width="0.25" >1</text>
<text x="23.00" y="265.40" font-size="9.6" font-weight="bold" text-anchor="end" fill="#1a1a1a" stroke="#1a1a1a" stroke-width="0.25" >2</text>
<line x1="26.30" y1="332.30" x2="29.30" y2="332.30" stroke="#1a1a1a" stroke-width="1.35" />
<line x1="26.30" y1="285.30" x2="29.30" y2="285.30" stroke="#1a1a1a" stroke-width="1.35" />
<line x1="23.80" y1="227.20" x2="29.30" y2="227.20" stroke="#1a1a1a" stroke-width="1.35" />
<text x="23.00" y="230.80" font-size="9.6" font-weight="bold" text-anchor="end" fill="#1a1a1a" stroke="#1a1a1a" stroke-width="0.25" >4</text>
<line x1="23.80" y1="239.20" x2="29.30" y2="239.20" stroke="#1a1a1a" stroke-width="1.35" />
<text x="23.00" y="242.80" font-size="9.6" font-weight="bold" text-anchor="end" fill="#1a1a1a" stroke="#1a1a1a" stroke-width="0.25" >3</text>
<line x1="26.30" y1="233.30" x2="29.30" y2="233.30" stroke="#1a1a1a" stroke-width="1.35" />
<line x1="26.30" y1="245.50" x2="29.30" y2="245.50" stroke="#1a1a1a" stroke-width="1.35" />
<line x1="26.10" y1="249.20" x2="32.50" y2="255.00" stroke="#1a1a1a" stroke-width="1.0" />
<line x1="26.10" y1="257.20" x2="32.50" y2="263.40" stroke="#1a1a1a" stroke-width="1.0" />
<text x="12.70" y="291.10" font-size="8.3" font-weight="bold" text-anchor="middle" fill="#1a1a1a" stroke="#1a1a1a" stroke-width="0.25" transform="rotate(-90 12.70 291.10)" >Relative DR6 mRNA expression</text>
<text x="93.70" y="212.20" font-size="9.2" font-weight="bold" text-anchor="middle" fill="#1a1a1a" stroke="#1a1a1a" stroke-width="0.25" >A375</text>
<rect x="37.65" y="306.30" width="15.90" height="49.50" fill="#dedfde" stroke="#3a3a3a" stroke-width="0.9"/>
<rect x="61.95" y="294.60" width="15.90" height="61.20" fill="#dedfde" stroke="#3a3a3a" stroke-width="0.9"/>
<rect x="85.85" y="276.00" width="15.90" height="79.80" fill="#dedfde" stroke="#3a3a3a" stroke-width="0.9"/>
<rect x="109.95" y="286.30" width="15.90" height="69.50" fill="#dedfde" stroke="#3a3a3a" stroke-width="0.9"/>
<rect x="133.75" y="292.00" width="15.90" height="63.80" fill="#dedfde" stroke="#3a3a3a" stroke-width="0.9"/>
<line x1="23.80" y1="355.80" x2="155.10" y2="355.80" stroke="#1a1a1a" stroke-width="1.35" />
<line x1="93.70" y1="268.20" x2="93.70" y2="276.00" stroke="#3a3a3a" stroke-width="0.9" />
<line x1="90.20" y1="268.20" x2="97.20" y2="268.20" stroke="#3a3a3a" stroke-width="0.9" />
<line x1="69.80" y1="290.50" x2="69.80" y2="294.60" stroke="#3a3a3a" stroke-width="0.9" />
<line x1="66.30" y1="290.50" x2="73.30" y2="290.50" stroke="#3a3a3a" stroke-width="0.9" />
<line x1="117.80" y1="281.50" x2="117.80" y2="286.30" stroke="#3a3a3a" stroke-width="0.9" />
<line x1="114.30" y1="281.50" x2="121.30" y2="281.50" stroke="#3a3a3a" stroke-width="0.9" />
<line x1="45.60" y1="303.80" x2="45.60" y2="306.30" stroke="#3a3a3a" stroke-width="0.9" />
<line x1="42.10" y1="303.80" x2="49.10" y2="303.80" stroke="#3a3a3a" stroke-width="0.9" />
<line x1="141.70" y1="289.00" x2="141.70" y2="292.00" stroke="#3a3a3a" stroke-width="0.9" />
<line x1="138.20" y1="289.00" x2="145.20" y2="289.00" stroke="#3a3a3a" stroke-width="0.9" />
<text x="93.50" y="238.73" font-size="10.5" font-weight="normal" text-anchor="middle" fill="#1a1a1a" stroke="#1a1a1a" stroke-width="0.25" >***</text>
<text x="45.50" y="371.00" font-size="9.6" font-weight="bold" text-anchor="middle" fill="#1a1a1a" stroke="#1a1a1a" stroke-width="0.25" >0</text>
<text x="69.80" y="371.00" font-size="9.6" font-weight="bold" text-anchor="middle" fill="#1a1a1a" stroke="#1a1a1a" stroke-width="0.25" >0.5</text>
<text x="93.70" y="371.00" font-size="9.6" font-weight="bold" text-anchor="middle" fill="#1a1a1a" stroke="#1a1a1a" stroke-width="0.25" >1</text>
<text x="117.80" y="371.00" font-size="9.6" font-weight="bold" text-anchor="middle" fill="#1a1a1a" stroke="#1a1a1a" stroke-width="0.25" >3</text>
<text x="141.60" y="371.00" font-size="9.6" font-weight="bold" text-anchor="middle" fill="#1a1a1a" stroke="#1a1a1a" stroke-width="0.25" >9</text>
<text x="94.00" y="380.50" font-size="8.45" font-weight="bold" text-anchor="middle" fill="#1a1a1a" stroke="#1a1a1a" stroke-width="0.25" >LPA treatment (h)</text>
<text x="167.00" y="202.60" font-size="10.5" font-weight="bold" text-anchor="start" fill="#1a1a1a" stroke="#1a1a1a" stroke-width="0.25" >f</text>
<line x1="197.00" y1="227.80" x2="197.00" y2="356.15" stroke="#1a1a1a" stroke-width="1.35" />
<line x1="191.50" y1="355.60" x2="197.00" y2="355.60" stroke="#1a1a1a" stroke-width="1.35" />
<text x="190.10" y="359.10" font-size="9.7" font-weight="bold" text-anchor="end" fill="#1a1a1a" stroke="#1a1a1a" stroke-width="0.25" >0</text>
<line x1="191.50" y1="330.14" x2="197.00" y2="330.14" stroke="#1a1a1a" stroke-width="1.35" />
<text x="190.10" y="333.64" font-size="9.7" font-weight="bold" text-anchor="end" fill="#1a1a1a" stroke="#1a1a1a" stroke-width="0.25" >10</text>
<line x1="191.50" y1="304.68" x2="197.00" y2="304.68" stroke="#1a1a1a" stroke-width="1.35" />
<text x="190.10" y="308.18" font-size="9.7" font-weight="bold" text-anchor="end" fill="#1a1a1a" stroke="#1a1a1a" stroke-width="0.25" >20</text>
<line x1="191.50" y1="279.22" x2="197.00" y2="279.22" stroke="#1a1a1a" stroke-width="1.35" />
<text x="190.10" y="282.72" font-size="9.7" font-weight="bold" text-anchor="end" fill="#1a1a1a" stroke="#1a1a1a" stroke-width="0.25" >30</text>
<line x1="191.50" y1="253.76" x2="197.00" y2="253.76" stroke="#1a1a1a" stroke-width="1.35" />
<text x="190.10" y="257.26" font-size="9.7" font-weight="bold" text-anchor="end" fill="#1a1a1a" stroke="#1a1a1a" stroke-width="0.25" >40</text>
<line x1="191.50" y1="228.30" x2="197.00" y2="228.30" stroke="#1a1a1a" stroke-width="1.35" />
<text x="190.10" y="231.80" font-size="9.7" font-weight="bold" text-anchor="end" fill="#1a1a1a" stroke="#1a1a1a" stroke-width="0.25" >50</text>
<text x="174.00" y="291.10" font-size="8.3" font-weight="bold" text-anchor="middle" fill="#1a1a1a" stroke="#1a1a1a" stroke-width="0.25" transform="rotate(-90 174.00 291.10)" >% DR6+ cells</text>
<text x="261.70" y="212.20" font-size="9.2" font-weight="bold" text-anchor="middle" fill="#1a1a1a" stroke="#1a1a1a" stroke-width="0.25" >A375</text>
<rect x="205.25" y="327.75" width="15.80" height="27.85" fill="#fff" stroke="#3a3a3a" stroke-width="0.9"/>
<rect x="229.60" y="317.90" width="15.80" height="37.70" fill="#fff" stroke="#3a3a3a" stroke-width="0.9"/>
<rect x="253.55" y="296.20" width="15.80" height="59.40" fill="#fff" stroke="#3a3a3a" stroke-width="0.9"/>
<rect x="277.95" y="314.50" width="15.80" height="41.10" fill="#fff" stroke="#3a3a3a" stroke-width="0.9"/>
<rect x="301.90" y="277.30" width="15.80" height="78.30" fill="#fff" stroke="#3a3a3a" stroke-width="0.9"/>
<line x1="191.50" y1="355.60" x2="326.50" y2="355.60" stroke="#1a1a1a" stroke-width="1.35" />
<text x="213.15" y="371.00" font-size="9.7" font-weight="bold" text-anchor="middle" fill="#1a1a1a" stroke="#1a1a1a" stroke-width="0.25" >0</text>
<text x="237.50" y="371.00" font-size="9.7" font-weight="bold" text-anchor="middle" fill="#1a1a1a" stroke="#1a1a1a" stroke-width="0.25" >1</text>
<text x="261.45" y="371.00" font-size="9.7" font-weight="bold" text-anchor="middle" fill="#1a1a1a" stroke="#1a1a1a" stroke-width="0.25" >3</text>
<text x="285.85" y="371.00" font-size="9.7" font-weight="bold" text-anchor="middle" fill="#1a1a1a" stroke="#1a1a1a" stroke-width="0.25" >6</text>
<text x="309.80" y="371.00" font-size="9.7" font-weight="bold" text-anchor="middle" fill="#1a1a1a" stroke="#1a1a1a" stroke-width="0.25" >12</text>
<text x="261.70" y="380.50" font-size="8.45" font-weight="bold" text-anchor="middle" fill="#1a1a1a" stroke="#1a1a1a" stroke-width="0.25" >LPA treatment (h)</text>
<text x="261.50" y="272.93" font-size="10.5" font-weight="normal" text-anchor="middle" fill="#1a1a1a" stroke="#1a1a1a" stroke-width="0.25" >****</text>
<text x="309.50" y="255.83" font-size="10.5" font-weight="normal" text-anchor="middle" fill="#1a1a1a" stroke="#1a1a1a" stroke-width="0.25" >****</text>
<text x="344.30" y="202.60" font-size="10.5" font-weight="bold" text-anchor="start" fill="#1a1a1a" stroke="#1a1a1a" stroke-width="0.25" >g</text>
<line x1="369.20" y1="226.70" x2="369.20" y2="355.35" stroke="#1a1a1a" stroke-width="1.35" />
<line x1="363.70" y1="354.80" x2="369.20" y2="354.80" stroke="#1a1a1a" stroke-width="1.35" />
<text x="362.30" y="358.30" font-size="9.3" font-weight="bold" text-anchor="end" fill="#1a1a1a" stroke="#1a1a1a" stroke-width="0.25" >0</text>
<line x1="363.70" y1="322.90" x2="369.20" y2="322.90" stroke="#1a1a1a" stroke-width="1.35" />
<text x="362.30" y="326.40" font-size="9.3" font-weight="bold" text-anchor="end" fill="#1a1a1a" stroke="#1a1a1a" stroke-width="0.25" >1</text>
<line x1="363.70" y1="291.00" x2="369.20" y2="291.00" stroke="#1a1a1a" stroke-width="1.35" />
<text x="362.30" y="294.50" font-size="9.3" font-weight="bold" text-anchor="end" fill="#1a1a1a" stroke="#1a1a1a" stroke-width="0.25" >2</text>
<line x1="363.70" y1="259.10" x2="369.20" y2="259.10" stroke="#1a1a1a" stroke-width="1.35" />
<text x="362.30" y="262.60" font-size="9.3" font-weight="bold" text-anchor="end" fill="#1a1a1a" stroke="#1a1a1a" stroke-width="0.25" >3</text>
<line x1="363.70" y1="227.20" x2="369.20" y2="227.20" stroke="#1a1a1a" stroke-width="1.35" />
<text x="362.30" y="230.70" font-size="9.3" font-weight="bold" text-anchor="end" fill="#1a1a1a" stroke="#1a1a1a" stroke-width="0.25" >4</text>
<text x="351.20" y="290.00" font-size="8.3" font-weight="bold" text-anchor="middle" fill="#1a1a1a" stroke="#1a1a1a" stroke-width="0.25" transform="rotate(-90 351.20 290.00)" >Relative DR6 mRNA expression</text>
<text x="433.50" y="212.20" font-size="9.2" font-weight="bold" text-anchor="middle" fill="#1a1a1a" stroke="#1a1a1a" stroke-width="0.25" >A2058</text>
<rect x="377.70" y="322.00" width="15.70" height="32.80" fill="#dedfde" stroke="#3a3a3a" stroke-width="0.9"/>
<rect x="401.80" y="317.00" width="15.70" height="37.80" fill="#dedfde" stroke="#3a3a3a" stroke-width="0.9"/>
<rect x="425.75" y="293.90" width="15.70" height="60.90" fill="#dedfde" stroke="#3a3a3a" stroke-width="0.9"/>
<rect x="449.75" y="299.80" width="15.70" height="55.00" fill="#dedfde" stroke="#3a3a3a" stroke-width="0.9"/>
<rect x="473.55" y="308.70" width="15.70" height="46.10" fill="#dedfde" stroke="#3a3a3a" stroke-width="0.9"/>
<line x1="363.70" y1="354.80" x2="497.80" y2="354.80" stroke="#1a1a1a" stroke-width="1.35" />
<text x="385.55" y="371.00" font-size="9.3" font-weight="bold" text-anchor="middle" fill="#1a1a1a" stroke="#1a1a1a" stroke-width="0.25" >0</text>
<text x="409.65" y="371.00" font-size="9.3" font-weight="bold" text-anchor="middle" fill="#1a1a1a" stroke="#1a1a1a" stroke-width="0.25" >0.5</text>
<text x="433.60" y="371.00" font-size="9.3" font-weight="bold" text-anchor="middle" fill="#1a1a1a" stroke="#1a1a1a" stroke-width="0.25" >1</text>
<text x="457.60" y="371.00" font-size="9.3" font-weight="bold" text-anchor="middle" fill="#1a1a1a" stroke="#1a1a1a" stroke-width="0.25" >3</text>
<text x="481.40" y="371.00" font-size="9.3" font-weight="bold" text-anchor="middle" fill="#1a1a1a" stroke="#1a1a1a" stroke-width="0.25" >9</text>
<text x="433.50" y="380.50" font-size="8.45" font-weight="bold" text-anchor="middle" fill="#1a1a1a" stroke="#1a1a1a" stroke-width="0.25" >LPA treatment (h)</text>
<text x="433.40" y="244.43" font-size="10.5" font-weight="normal" text-anchor="middle" fill="#1a1a1a" stroke="#1a1a1a" stroke-width="0.25" >*</text>
<text x="510.00" y="202.30" font-size="10.5" font-weight="bold" text-anchor="start" fill="#1a1a1a" stroke="#1a1a1a" stroke-width="0.25" >h</text>
<line x1="540.20" y1="226.70" x2="540.20" y2="355.35" stroke="#1a1a1a" stroke-width="1.35" />
<line x1="534.70" y1="354.80" x2="540.20" y2="354.80" stroke="#1a1a1a" stroke-width="1.35" />
<text x="533.30" y="358.30" font-size="10.0" font-weight="bold" text-anchor="end" fill="#1a1a1a" stroke="#1a1a1a" stroke-width="0.25" >0</text>
<line x1="534.70" y1="333.53" x2="540.20" y2="333.53" stroke="#1a1a1a" stroke-width="1.35" />
<text x="533.30" y="337.03" font-size="10.0" font-weight="bold" text-anchor="end" fill="#1a1a1a" stroke="#1a1a1a" stroke-width="0.25" >10</text>
<line x1="534.70" y1="312.27" x2="540.20" y2="312.27" stroke="#1a1a1a" stroke-width="1.35" />
<text x="533.30" y="315.77" font-size="10.0" font-weight="bold" text-anchor="end" fill="#1a1a1a" stroke="#1a1a1a" stroke-width="0.25" >20</text>
<line x1="534.70" y1="291.00" x2="540.20" y2="291.00" stroke="#1a1a1a" stroke-width="1.35" />
<text x="533.30" y="294.50" font-size="10.0" font-weight="bold" text-anchor="end" fill="#1a1a1a" stroke="#1a1a1a" stroke-width="0.25" >30</text>
<line x1="534.70" y1="269.73" x2="540.20" y2="269.73" stroke="#1a1a1a" stroke-width="1.35" />
<text x="533.30" y="273.23" font-size="10.0" font-weight="bold" text-anchor="end" fill="#1a1a1a" stroke="#1a1a1a" stroke-width="0.25" >40</text>
<line x1="534.70" y1="248.47" x2="540.20" y2="248.47" stroke="#1a1a1a" stroke-width="1.35" />
<text x="533.30" y="251.97" font-size="10.0" font-weight="bold" text-anchor="end" fill="#1a1a1a" stroke="#1a1a1a" stroke-width="0.25" >50</text>
<line x1="534.70" y1="227.20" x2="540.20" y2="227.20" stroke="#1a1a1a" stroke-width="1.35" />
<text x="533.30" y="230.70" font-size="10.0" font-weight="bold" text-anchor="end" fill="#1a1a1a" stroke="#1a1a1a" stroke-width="0.25" >60</text>
<text x="517.40" y="291.00" font-size="8.3" font-weight="bold" text-anchor="middle" fill="#1a1a1a" stroke="#1a1a1a" stroke-width="0.25" transform="rotate(-90 517.40 291.00)" >% DR6+ cells</text>
<text x="605.30" y="212.20" font-size="9.2" font-weight="bold" text-anchor="middle" fill="#1a1a1a" stroke="#1a1a1a" stroke-width="0.25" >A2058</text>
<rect x="548.95" y="316.00" width="15.50" height="38.80" fill="#fff" stroke="#3a3a3a" stroke-width="0.9"/>
<rect x="573.30" y="282.10" width="15.50" height="72.70" fill="#fff" stroke="#3a3a3a" stroke-width="0.9"/>
<rect x="597.40" y="278.30" width="15.50" height="76.50" fill="#fff" stroke="#3a3a3a" stroke-width="0.9"/>
<rect x="621.55" y="299.30" width="15.50" height="55.50" fill="#fff" stroke="#3a3a3a" stroke-width="0.9"/>
<rect x="645.60" y="303.40" width="15.50" height="51.40" fill="#fff" stroke="#3a3a3a" stroke-width="0.9"/>
<line x1="534.70" y1="354.80" x2="669.60" y2="354.80" stroke="#1a1a1a" stroke-width="1.35" />
<text x="556.70" y="371.00" font-size="10.0" font-weight="bold" text-anchor="middle" fill="#1a1a1a" stroke="#1a1a1a" stroke-width="0.25" >0</text>
<text x="581.05" y="371.00" font-size="10.0" font-weight="bold" text-anchor="middle" fill="#1a1a1a" stroke="#1a1a1a" stroke-width="0.25" >1</text>
<text x="605.15" y="371.00" font-size="10.0" font-weight="bold" text-anchor="middle" fill="#1a1a1a" stroke="#1a1a1a" stroke-width="0.25" >3</text>
<text x="629.30" y="371.00" font-size="10.0" font-weight="bold" text-anchor="middle" fill="#1a1a1a" stroke="#1a1a1a" stroke-width="0.25" >6</text>
<text x="653.35" y="371.00" font-size="10.0" font-weight="bold" text-anchor="middle" fill="#1a1a1a" stroke="#1a1a1a" stroke-width="0.25" >12</text>
<text x="605.30" y="380.50" font-size="8.45" font-weight="bold" text-anchor="middle" fill="#1a1a1a" stroke="#1a1a1a" stroke-width="0.25" >LPA treatment (h)</text>
<text x="580.90" y="236.68" font-size="10.5" font-weight="normal" text-anchor="middle" fill="#1a1a1a" stroke="#1a1a1a" stroke-width="0.25" >****</text>
<text x="605.60" y="254.53" font-size="10.5" font-weight="normal" text-anchor="middle" fill="#1a1a1a" stroke="#1a1a1a" stroke-width="0.25" >****</text>
<text x="629.60" y="271.43" font-size="10.5" font-weight="normal" text-anchor="middle" fill="#1a1a1a" stroke="#1a1a1a" stroke-width="0.25" >*</text>
<circle cx="42.40" cy="300.80" r="2.0" fill="#fff" stroke="#2a2a2a" stroke-width="0.8"/>
<circle cx="45.40" cy="303.40" r="2.0" fill="#fff" stroke="#2a2a2a" stroke-width="0.8"/>
<circle cx="51.50" cy="302.10" r="2.0" fill="#fff" stroke="#2a2a2a" stroke-width="0.8"/>
<circle cx="39.10" cy="307.30" r="2.0" fill="#fff" stroke="#2a2a2a" stroke-width="0.8"/>
<circle cx="42.40" cy="306.00" r="2.0" fill="#fff" stroke="#2a2a2a" stroke-width="0.8"/>
<circle cx="45.40" cy="306.70" r="2.0" fill="#fff" stroke="#2a2a2a" stroke-width="0.8"/>
<circle cx="48.90" cy="306.00" r="2.0" fill="#fff" stroke="#2a2a2a" stroke-width="0.8"/>
<circle cx="39.10" cy="311.25" r="2.0" fill="#fff" stroke="#2a2a2a" stroke-width="0.8"/>
<circle cx="42.40" cy="310.60" r="2.0" fill="#fff" stroke="#2a2a2a" stroke-width="0.8"/>
<circle cx="45.60" cy="310.00" r="2.0" fill="#fff" stroke="#2a2a2a" stroke-width="0.8"/>
<circle cx="49.50" cy="310.60" r="2.0" fill="#fff" stroke="#2a2a2a" stroke-width="0.8"/>
<circle cx="39.10" cy="314.50" r="2.0" fill="#fff" stroke="#2a2a2a" stroke-width="0.8"/>
<circle cx="45.40" cy="313.60" r="2.0" fill="#fff" stroke="#2a2a2a" stroke-width="0.8"/>
<circle cx="51.50" cy="314.50" r="2.0" fill="#fff" stroke="#2a2a2a" stroke-width="0.8"/>
<circle cx="69.00" cy="283.90" r="2.0" fill="#fff" stroke="#2a2a2a" stroke-width="0.8"/>
<circle cx="69.00" cy="288.50" r="2.0" fill="#fff" stroke="#2a2a2a" stroke-width="0.8"/>
<circle cx="65.80" cy="291.10" r="2.0" fill="#fff" stroke="#2a2a2a" stroke-width="0.8"/>
<circle cx="63.20" cy="293.00" r="2.0" fill="#fff" stroke="#2a2a2a" stroke-width="0.8"/>
<circle cx="75.60" cy="294.60" r="2.0" fill="#fff" stroke="#2a2a2a" stroke-width="0.8"/>
<circle cx="63.90" cy="297.60" r="2.0" fill="#fff" stroke="#2a2a2a" stroke-width="0.8"/>
<circle cx="69.00" cy="298.20" r="2.0" fill="#fff" stroke="#2a2a2a" stroke-width="0.8"/>
<circle cx="72.30" cy="296.90" r="2.0" fill="#fff" stroke="#2a2a2a" stroke-width="0.8"/>
<circle cx="69.00" cy="302.10" r="2.0" fill="#fff" stroke="#2a2a2a" stroke-width="0.8"/>
<circle cx="66.50" cy="305.40" r="2.0" fill="#fff" stroke="#2a2a2a" stroke-width="0.8"/>
<circle cx="72.30" cy="304.70" r="2.0" fill="#fff" stroke="#2a2a2a" stroke-width="0.8"/>
<circle cx="93.50" cy="237.90" r="2.0" fill="#fff" stroke="#2a2a2a" stroke-width="0.8"/>
<circle cx="89.40" cy="245.20" r="2.0" fill="#fff" stroke="#2a2a2a" stroke-width="0.8"/>
<circle cx="93.50" cy="247.30" r="2.0" fill="#fff" stroke="#2a2a2a" stroke-width="0.8"/>
<circle cx="97.70" cy="246.90" r="2.0" fill="#fff" stroke="#2a2a2a" stroke-width="0.8"/>
<circle cx="91.50" cy="265.60" r="2.0" fill="#fff" stroke="#2a2a2a" stroke-width="0.8"/>
<circle cx="95.60" cy="263.50" r="2.0" fill="#fff" stroke="#2a2a2a" stroke-width="0.8"/>
<circle cx="93.40" cy="282.00" r="2.0" fill="#fff" stroke="#2a2a2a" stroke-width="0.8"/>
<circle cx="87.60" cy="292.40" r="2.0" fill="#fff" stroke="#2a2a2a" stroke-width="0.8"/>
<circle cx="99.50" cy="291.10" r="2.0" fill="#fff" stroke="#2a2a2a" stroke-width="0.8"/>
<circle cx="91.70" cy="295.40" r="2.0" fill="#fff" stroke="#2a2a2a" stroke-width="0.8"/>
<circle cx="95.60" cy="296.00" r="2.0" fill="#fff" stroke="#2a2a2a" stroke-width="0.8"/>
<circle cx="87.60" cy="297.10" r="2.0" fill="#fff" stroke="#2a2a2a" stroke-width="0.8"/>
<circle cx="99.50" cy="296.70" r="2.0" fill="#fff" stroke="#2a2a2a" stroke-width="0.8"/>
<circle cx="95.60" cy="301.00" r="2.0" fill="#fff" stroke="#2a2a2a" stroke-width="0.8"/>
<circle cx="87.60" cy="301.30" r="2.0" fill="#fff" stroke="#2a2a2a" stroke-width="0.8"/>
<circle cx="99.50" cy="300.20" r="2.0" fill="#fff" stroke="#2a2a2a" stroke-width="0.8"/>
<circle cx="119.70" cy="279.40" r="2.0" fill="#fff" stroke="#2a2a2a" stroke-width="0.8"/>
<circle cx="115.40" cy="282.40" r="2.0" fill="#fff" stroke="#2a2a2a" stroke-width="0.8"/>
<circle cx="111.30" cy="290.80" r="2.0" fill="#fff" stroke="#2a2a2a" stroke-width="0.8"/>
<circle cx="115.80" cy="288.20" r="2.0" fill="#fff" stroke="#2a2a2a" stroke-width="0.8"/>
<circle cx="119.70" cy="289.30" r="2.0" fill="#fff" stroke="#2a2a2a" stroke-width="0.8"/>
<circle cx="123.60" cy="288.90" r="2.0" fill="#fff" stroke="#2a2a2a" stroke-width="0.8"/>
<circle cx="135.40" cy="289.30" r="2.0" fill="#fff" stroke="#2a2a2a" stroke-width="0.8"/>
<circle cx="139.30" cy="286.90" r="2.0" fill="#fff" stroke="#2a2a2a" stroke-width="0.8"/>
<circle cx="143.20" cy="286.70" r="2.0" fill="#fff" stroke="#2a2a2a" stroke-width="0.8"/>
<circle cx="147.75" cy="286.70" r="2.0" fill="#fff" stroke="#2a2a2a" stroke-width="0.8"/>
<circle cx="138.60" cy="296.70" r="2.0" fill="#fff" stroke="#2a2a2a" stroke-width="0.8"/>
<circle cx="145.10" cy="297.40" r="2.0" fill="#fff" stroke="#2a2a2a" stroke-width="0.8"/>
<circle cx="148.40" cy="296.70" r="2.0" fill="#fff" stroke="#2a2a2a" stroke-width="0.8"/>
<circle cx="138.60" cy="300.90" r="2.0" fill="#fff" stroke="#2a2a2a" stroke-width="0.8"/>
<circle cx="141.20" cy="292.00" r="2.0" fill="#fff" stroke="#2a2a2a" stroke-width="0.8"/>
<circle cx="213.50" cy="317.70" r="2.0" fill="#fff" stroke="#2a2a2a" stroke-width="0.8"/>
<circle cx="213.50" cy="322.40" r="2.0" fill="#fff" stroke="#2a2a2a" stroke-width="0.8"/>
<circle cx="207.30" cy="324.50" r="2.0" fill="#fff" stroke="#2a2a2a" stroke-width="0.8"/>
<circle cx="219.30" cy="322.40" r="2.0" fill="#fff" stroke="#2a2a2a" stroke-width="0.8"/>
<circle cx="213.50" cy="327.60" r="2.0" fill="#fff" stroke="#2a2a2a" stroke-width="0.8"/>
<circle cx="219.30" cy="327.90" r="2.0" fill="#fff" stroke="#2a2a2a" stroke-width="0.8"/>
<circle cx="213.00" cy="333.30" r="2.0" fill="#fff" stroke="#2a2a2a" stroke-width="0.8"/>
<circle cx="219.30" cy="334.40" r="2.0" fill="#fff" stroke="#2a2a2a" stroke-width="0.8"/>
<circle cx="207.30" cy="336.50" r="2.0" fill="#fff" stroke="#2a2a2a" stroke-width="0.8"/>
<circle cx="237.50" cy="286.50" r="2.0" fill="#fff" stroke="#2a2a2a" stroke-width="0.8"/>
<circle cx="237.50" cy="308.10" r="2.0" fill="#fff" stroke="#2a2a2a" stroke-width="0.8"/>
<circle cx="237.50" cy="312.50" r="2.0" fill="#fff" stroke="#2a2a2a" stroke-width="0.8"/>
<circle cx="237.50" cy="317.20" r="2.0" fill="#fff" stroke="#2a2a2a" stroke-width="0.8"/>
<circle cx="239.40" cy="322.40" r="2.0" fill="#fff" stroke="#2a2a2a" stroke-width="0.8"/>
<circle cx="231.25" cy="325.00" r="2.0" fill="#fff" stroke="#2a2a2a" stroke-width="0.8"/>
<circle cx="235.40" cy="326.60" r="2.0" fill="#fff" stroke="#2a2a2a" stroke-width="0.8"/>
<circle cx="239.40" cy="327.90" r="2.0" fill="#fff" stroke="#2a2a2a" stroke-width="0.8"/>
<circle cx="243.20" cy="326.60" r="2.0" fill="#fff" stroke="#2a2a2a" stroke-width="0.8"/>
<circle cx="231.25" cy="329.70" r="2.0" fill="#fff" stroke="#2a2a2a" stroke-width="0.8"/>
<circle cx="255.30" cy="277.50" r="2.0" fill="#fff" stroke="#2a2a2a" stroke-width="0.8"/>
<circle cx="261.50" cy="279.60" r="2.0" fill="#fff" stroke="#2a2a2a" stroke-width="0.8"/>
<circle cx="261.50" cy="286.25" r="2.0" fill="#fff" stroke="#2a2a2a" stroke-width="0.8"/>
<circle cx="258.40" cy="290.40" r="2.0" fill="#fff" stroke="#2a2a2a" stroke-width="0.8"/>
<circle cx="264.25" cy="290.00" r="2.0" fill="#fff" stroke="#2a2a2a" stroke-width="0.8"/>
<circle cx="261.50" cy="300.40" r="2.0" fill="#fff" stroke="#2a2a2a" stroke-width="0.8"/>
<circle cx="255.30" cy="306.25" r="2.0" fill="#fff" stroke="#2a2a2a" stroke-width="0.8"/>
<circle cx="267.80" cy="306.70" r="2.0" fill="#fff" stroke="#2a2a2a" stroke-width="0.8"/>
<circle cx="261.50" cy="308.30" r="2.0" fill="#fff" stroke="#2a2a2a" stroke-width="0.8"/>
<circle cx="261.50" cy="314.00" r="2.0" fill="#fff" stroke="#2a2a2a" stroke-width="0.8"/>
<circle cx="285.50" cy="251.90" r="2.0" fill="#fff" stroke="#2a2a2a" stroke-width="0.8"/>
<circle cx="282.30" cy="312.50" r="2.0" fill="#fff" stroke="#2a2a2a" stroke-width="0.8"/>
<circle cx="288.75" cy="312.50" r="2.0" fill="#fff" stroke="#2a2a2a" stroke-width="0.8"/>
<circle cx="279.40" cy="319.00" r="2.0" fill="#fff" stroke="#2a2a2a" stroke-width="0.8"/>
<circle cx="285.60" cy="319.60" r="2.0" fill="#fff" stroke="#2a2a2a" stroke-width="0.8"/>
<circle cx="291.40" cy="317.20" r="2.0" fill="#fff" stroke="#2a2a2a" stroke-width="0.8"/>
<circle cx="279.40" cy="322.40" r="2.0" fill="#fff" stroke="#2a2a2a" stroke-width="0.8"/>
<circle cx="285.60" cy="324.80" r="2.0" fill="#fff" stroke="#2a2a2a" stroke-width="0.8"/>
<circle cx="291.40" cy="321.40" r="2.0" fill="#fff" stroke="#2a2a2a" stroke-width="0.8"/>
<circle cx="279.40" cy="327.60" r="2.0" fill="#fff" stroke="#2a2a2a" stroke-width="0.8"/>
<circle cx="291.40" cy="325.50" r="2.0" fill="#fff" stroke="#2a2a2a" stroke-width="0.8"/>
<circle cx="303.20" cy="264.60" r="2.0" fill="#fff" stroke="#2a2a2a" stroke-width="0.8"/>
<circle cx="307.40" cy="262.90" r="2.0" fill="#fff" stroke="#2a2a2a" stroke-width="0.8"/>
<circle cx="311.50" cy="262.50" r="2.0" fill="#fff" stroke="#2a2a2a" stroke-width="0.8"/>
<circle cx="315.70" cy="263.30" r="2.0" fill="#fff" stroke="#2a2a2a" stroke-width="0.8"/>
<circle cx="310.50" cy="268.10" r="2.0" fill="#fff" stroke="#2a2a2a" stroke-width="0.8"/>
<circle cx="308.40" cy="271.25" r="2.0" fill="#fff" stroke="#2a2a2a" stroke-width="0.8"/>
<circle cx="309.50" cy="287.50" r="2.0" fill="#fff" stroke="#2a2a2a" stroke-width="0.8"/>
<circle cx="309.50" cy="292.50" r="2.0" fill="#fff" stroke="#2a2a2a" stroke-width="0.8"/>
<circle cx="309.50" cy="297.90" r="2.0" fill="#fff" stroke="#2a2a2a" stroke-width="0.8"/>
<circle cx="309.50" cy="302.50" r="2.0" fill="#fff" stroke="#2a2a2a" stroke-width="0.8"/>
<line x1="213.50" y1="325.00" x2="213.50" y2="327.75" stroke="#3a3a3a" stroke-width="0.9" />
<line x1="210.00" y1="325.00" x2="217.00" y2="325.00" stroke="#3a3a3a" stroke-width="0.9" />
<line x1="237.50" y1="314.00" x2="237.50" y2="317.90" stroke="#3a3a3a" stroke-width="0.9" />
<line x1="234.00" y1="314.00" x2="241.00" y2="314.00" stroke="#3a3a3a" stroke-width="0.9" />
<line x1="261.50" y1="292.00" x2="261.50" y2="296.20" stroke="#3a3a3a" stroke-width="0.9" />
<line x1="258.00" y1="292.00" x2="265.00" y2="292.00" stroke="#3a3a3a" stroke-width="0.9" />
<line x1="285.60" y1="307.80" x2="285.60" y2="314.50" stroke="#3a3a3a" stroke-width="0.9" />
<line x1="282.10" y1="307.80" x2="289.10" y2="307.80" stroke="#3a3a3a" stroke-width="0.9" />
<line x1="309.50" y1="272.30" x2="309.50" y2="277.30" stroke="#3a3a3a" stroke-width="0.9" />
<line x1="306.00" y1="272.30" x2="313.00" y2="272.30" stroke="#3a3a3a" stroke-width="0.9" />
<circle cx="383.10" cy="319.30" r="2.0" fill="#fff" stroke="#2a2a2a" stroke-width="0.8"/>
<circle cx="379.20" cy="322.80" r="2.0" fill="#fff" stroke="#2a2a2a" stroke-width="0.8"/>
<circle cx="387.00" cy="321.90" r="2.0" fill="#fff" stroke="#2a2a2a" stroke-width="0.8"/>
<circle cx="391.50" cy="323.40" r="2.0" fill="#fff" stroke="#2a2a2a" stroke-width="0.8"/>
<circle cx="383.10" cy="324.10" r="2.0" fill="#fff" stroke="#2a2a2a" stroke-width="0.8"/>
<circle cx="387.40" cy="326.70" r="2.0" fill="#fff" stroke="#2a2a2a" stroke-width="0.8"/>
<circle cx="385.00" cy="332.60" r="2.0" fill="#fff" stroke="#2a2a2a" stroke-width="0.8"/>
<circle cx="409.20" cy="234.20" r="2.0" fill="#fff" stroke="#2a2a2a" stroke-width="0.8"/>
<circle cx="409.10" cy="307.20" r="2.0" fill="#fff" stroke="#2a2a2a" stroke-width="0.8"/>
<circle cx="403.25" cy="319.50" r="2.0" fill="#fff" stroke="#2a2a2a" stroke-width="0.8"/>
<circle cx="409.10" cy="318.90" r="2.0" fill="#fff" stroke="#2a2a2a" stroke-width="0.8"/>
<circle cx="415.60" cy="316.30" r="2.0" fill="#fff" stroke="#2a2a2a" stroke-width="0.8"/>
<circle cx="415.60" cy="320.60" r="2.0" fill="#fff" stroke="#2a2a2a" stroke-width="0.8"/>
<circle cx="403.25" cy="323.40" r="2.0" fill="#fff" stroke="#2a2a2a" stroke-width="0.8"/>
<circle cx="415.60" cy="324.10" r="2.0" fill="#fff" stroke="#2a2a2a" stroke-width="0.8"/>
<circle cx="409.10" cy="326.70" r="2.0" fill="#fff" stroke="#2a2a2a" stroke-width="0.8"/>
<circle cx="409.10" cy="333.20" r="2.0" fill="#fff" stroke="#2a2a2a" stroke-width="0.8"/>
<circle cx="412.40" cy="339.10" r="2.0" fill="#fff" stroke="#2a2a2a" stroke-width="0.8"/>
<circle cx="406.10" cy="343.00" r="2.0" fill="#fff" stroke="#2a2a2a" stroke-width="0.8"/>
<circle cx="433.40" cy="253.10" r="2.0" fill="#fff" stroke="#2a2a2a" stroke-width="0.8"/>
<circle cx="433.40" cy="272.50" r="2.0" fill="#fff" stroke="#2a2a2a" stroke-width="0.8"/>
<circle cx="433.40" cy="289.00" r="2.0" fill="#fff" stroke="#2a2a2a" stroke-width="0.8"/>
<circle cx="433.40" cy="299.00" r="2.0" fill="#fff" stroke="#2a2a2a" stroke-width="0.8"/>
<circle cx="429.40" cy="306.90" r="2.0" fill="#fff" stroke="#2a2a2a" stroke-width="0.8"/>
<circle cx="437.20" cy="303.75" r="2.0" fill="#fff" stroke="#2a2a2a" stroke-width="0.8"/>
<circle cx="429.40" cy="313.10" r="2.0" fill="#fff" stroke="#2a2a2a" stroke-width="0.8"/>
<circle cx="437.20" cy="312.50" r="2.0" fill="#fff" stroke="#2a2a2a" stroke-width="0.8"/>
<circle cx="457.50" cy="266.25" r="2.0" fill="#fff" stroke="#2a2a2a" stroke-width="0.8"/>
<circle cx="457.50" cy="292.20" r="2.0" fill="#fff" stroke="#2a2a2a" stroke-width="0.8"/>
<circle cx="453.75" cy="301.60" r="2.0" fill="#fff" stroke="#2a2a2a" stroke-width="0.8"/>
<circle cx="461.60" cy="299.00" r="2.0" fill="#fff" stroke="#2a2a2a" stroke-width="0.8"/>
<circle cx="457.50" cy="307.80" r="2.0" fill="#fff" stroke="#2a2a2a" stroke-width="0.8"/>
<circle cx="457.50" cy="330.60" r="2.0" fill="#fff" stroke="#2a2a2a" stroke-width="0.8"/>
<circle cx="481.60" cy="283.40" r="2.0" fill="#fff" stroke="#2a2a2a" stroke-width="0.8"/>
<circle cx="481.60" cy="292.20" r="2.0" fill="#fff" stroke="#2a2a2a" stroke-width="0.8"/>
<circle cx="481.60" cy="299.40" r="2.0" fill="#fff" stroke="#2a2a2a" stroke-width="0.8"/>
<circle cx="481.60" cy="311.00" r="2.0" fill="#fff" stroke="#2a2a2a" stroke-width="0.8"/>
<circle cx="475.60" cy="313.10" r="2.0" fill="#fff" stroke="#2a2a2a" stroke-width="0.8"/>
<circle cx="487.20" cy="314.00" r="2.0" fill="#fff" stroke="#2a2a2a" stroke-width="0.8"/>
<circle cx="475.60" cy="317.20" r="2.0" fill="#fff" stroke="#2a2a2a" stroke-width="0.8"/>
<circle cx="481.60" cy="317.20" r="2.0" fill="#fff" stroke="#2a2a2a" stroke-width="0.8"/>
<circle cx="487.20" cy="318.75" r="2.0" fill="#fff" stroke="#2a2a2a" stroke-width="0.8"/>
<circle cx="475.60" cy="321.90" r="2.0" fill="#fff" stroke="#2a2a2a" stroke-width="0.8"/>
<line x1="409.60" y1="309.10" x2="409.60" y2="316.90" stroke="#3a3a3a" stroke-width="0.9" />
<line x1="406.10" y1="309.10" x2="413.10" y2="309.10" stroke="#3a3a3a" stroke-width="0.9" />
<line x1="433.60" y1="286.60" x2="433.60" y2="293.90" stroke="#3a3a3a" stroke-width="0.9" />
<line x1="430.10" y1="286.60" x2="437.10" y2="286.60" stroke="#3a3a3a" stroke-width="0.9" />
<line x1="457.60" y1="291.25" x2="457.60" y2="299.60" stroke="#3a3a3a" stroke-width="0.9" />
<line x1="454.10" y1="291.25" x2="461.10" y2="291.25" stroke="#3a3a3a" stroke-width="0.9" />
<line x1="481.40" y1="304.70" x2="481.40" y2="308.70" stroke="#3a3a3a" stroke-width="0.9" />
<line x1="477.90" y1="304.70" x2="484.90" y2="304.70" stroke="#3a3a3a" stroke-width="0.9" />
<circle cx="556.70" cy="275.50" r="2.0" fill="#fff" stroke="#2a2a2a" stroke-width="0.8"/>
<circle cx="556.70" cy="291.10" r="2.0" fill="#fff" stroke="#2a2a2a" stroke-width="0.8"/>
<circle cx="556.70" cy="297.30" r="2.0" fill="#fff" stroke="#2a2a2a" stroke-width="0.8"/>
<circle cx="559.60" cy="311.60" r="2.0" fill="#fff" stroke="#2a2a2a" stroke-width="0.8"/>
<circle cx="553.80" cy="314.50" r="2.0" fill="#fff" stroke="#2a2a2a" stroke-width="0.8"/>
<circle cx="550.90" cy="318.80" r="2.0" fill="#fff" stroke="#2a2a2a" stroke-width="0.8"/>
<circle cx="554.80" cy="321.20" r="2.0" fill="#fff" stroke="#2a2a2a" stroke-width="0.8"/>
<circle cx="562.60" cy="320.80" r="2.0" fill="#fff" stroke="#2a2a2a" stroke-width="0.8"/>
<circle cx="550.90" cy="323.70" r="2.0" fill="#fff" stroke="#2a2a2a" stroke-width="0.8"/>
<circle cx="558.70" cy="323.10" r="2.0" fill="#fff" stroke="#2a2a2a" stroke-width="0.8"/>
<circle cx="553.80" cy="326.60" r="2.0" fill="#fff" stroke="#2a2a2a" stroke-width="0.8"/>
<circle cx="562.60" cy="325.70" r="2.0" fill="#fff" stroke="#2a2a2a" stroke-width="0.8"/>
<circle cx="559.60" cy="328.20" r="2.0" fill="#fff" stroke="#2a2a2a" stroke-width="0.8"/>
<circle cx="556.70" cy="332.10" r="2.0" fill="#fff" stroke="#2a2a2a" stroke-width="0.8"/>
<circle cx="580.90" cy="244.40" r="2.0" fill="#fff" stroke="#2a2a2a" stroke-width="0.8"/>
<circle cx="580.90" cy="257.80" r="2.0" fill="#fff" stroke="#2a2a2a" stroke-width="0.8"/>
<circle cx="580.90" cy="265.00" r="2.0" fill="#fff" stroke="#2a2a2a" stroke-width="0.8"/>
<circle cx="577.20" cy="282.10" r="2.0" fill="#fff" stroke="#2a2a2a" stroke-width="0.8"/>
<circle cx="585.00" cy="286.00" r="2.0" fill="#fff" stroke="#2a2a2a" stroke-width="0.8"/>
<circle cx="581.10" cy="291.50" r="2.0" fill="#fff" stroke="#2a2a2a" stroke-width="0.8"/>
<circle cx="577.20" cy="295.40" r="2.0" fill="#fff" stroke="#2a2a2a" stroke-width="0.8"/>
<circle cx="585.00" cy="295.40" r="2.0" fill="#fff" stroke="#2a2a2a" stroke-width="0.8"/>
<circle cx="577.20" cy="302.60" r="2.0" fill="#fff" stroke="#2a2a2a" stroke-width="0.8"/>
<circle cx="585.00" cy="301.25" r="2.0" fill="#fff" stroke="#2a2a2a" stroke-width="0.8"/>
<circle cx="605.10" cy="264.20" r="2.0" fill="#fff" stroke="#2a2a2a" stroke-width="0.8"/>
<circle cx="605.10" cy="270.50" r="2.0" fill="#fff" stroke="#2a2a2a" stroke-width="0.8"/>
<circle cx="601.70" cy="278.50" r="2.0" fill="#fff" stroke="#2a2a2a" stroke-width="0.8"/>
<circle cx="608.75" cy="278.50" r="2.0" fill="#fff" stroke="#2a2a2a" stroke-width="0.8"/>
<circle cx="600.90" cy="282.20" r="2.0" fill="#fff" stroke="#2a2a2a" stroke-width="0.8"/>
<circle cx="600.90" cy="287.40" r="2.0" fill="#fff" stroke="#2a2a2a" stroke-width="0.8"/>
<circle cx="608.75" cy="284.30" r="2.0" fill="#fff" stroke="#2a2a2a" stroke-width="0.8"/>
<circle cx="630.40" cy="280.90" r="2.0" fill="#fff" stroke="#2a2a2a" stroke-width="0.8"/>
<circle cx="627.80" cy="283.50" r="2.0" fill="#fff" stroke="#2a2a2a" stroke-width="0.8"/>
<circle cx="630.40" cy="288.20" r="2.0" fill="#fff" stroke="#2a2a2a" stroke-width="0.8"/>
<circle cx="627.80" cy="290.80" r="2.0" fill="#fff" stroke="#2a2a2a" stroke-width="0.8"/>
<circle cx="629.10" cy="302.50" r="2.0" fill="#fff" stroke="#2a2a2a" stroke-width="0.8"/>
<circle cx="622.55" cy="309.80" r="2.0" fill="#fff" stroke="#2a2a2a" stroke-width="0.8"/>
<circle cx="629.10" cy="308.20" r="2.0" fill="#fff" stroke="#2a2a2a" stroke-width="0.8"/>
<circle cx="633.00" cy="309.00" r="2.0" fill="#fff" stroke="#2a2a2a" stroke-width="0.8"/>
<circle cx="635.60" cy="310.80" r="2.0" fill="#fff" stroke="#2a2a2a" stroke-width="0.8"/>
<circle cx="653.00" cy="276.50" r="2.0" fill="#fff" stroke="#2a2a2a" stroke-width="0.8"/>
<circle cx="647.30" cy="289.50" r="2.0" fill="#fff" stroke="#2a2a2a" stroke-width="0.8"/>
<circle cx="653.00" cy="293.40" r="2.0" fill="#fff" stroke="#2a2a2a" stroke-width="0.8"/>
<circle cx="647.30" cy="298.60" r="2.0" fill="#fff" stroke="#2a2a2a" stroke-width="0.8"/>
<circle cx="653.00" cy="298.60" r="2.0" fill="#fff" stroke="#2a2a2a" stroke-width="0.8"/>
<circle cx="659.00" cy="302.00" r="2.0" fill="#fff" stroke="#2a2a2a" stroke-width="0.8"/>
<circle cx="647.30" cy="303.80" r="2.0" fill="#fff" stroke="#2a2a2a" stroke-width="0.8"/>
<circle cx="653.00" cy="313.40" r="2.0" fill="#fff" stroke="#2a2a2a" stroke-width="0.8"/>
<circle cx="653.00" cy="321.25" r="2.0" fill="#fff" stroke="#2a2a2a" stroke-width="0.8"/>
<circle cx="659.00" cy="323.30" r="2.0" fill="#fff" stroke="#2a2a2a" stroke-width="0.8"/>
<circle cx="647.30" cy="324.60" r="2.0" fill="#fff" stroke="#2a2a2a" stroke-width="0.8"/>
<line x1="556.70" y1="312.50" x2="556.70" y2="316.00" stroke="#3a3a3a" stroke-width="0.9" />
<line x1="553.20" y1="312.50" x2="560.20" y2="312.50" stroke="#3a3a3a" stroke-width="0.9" />
<line x1="581.05" y1="276.25" x2="581.05" y2="281.90" stroke="#3a3a3a" stroke-width="0.9" />
<line x1="577.55" y1="276.25" x2="584.55" y2="276.25" stroke="#3a3a3a" stroke-width="0.9" />
<line x1="605.15" y1="274.60" x2="605.15" y2="278.00" stroke="#3a3a3a" stroke-width="0.9" />
<line x1="601.65" y1="274.60" x2="608.65" y2="274.60" stroke="#3a3a3a" stroke-width="0.9" />
<line x1="629.30" y1="295.50" x2="629.30" y2="299.10" stroke="#3a3a3a" stroke-width="0.9" />
<line x1="625.80" y1="295.50" x2="632.80" y2="295.50" stroke="#3a3a3a" stroke-width="0.9" />
<line x1="653.35" y1="299.90" x2="653.35" y2="303.50" stroke="#3a3a3a" stroke-width="0.9" />
<line x1="649.85" y1="299.90" x2="656.85" y2="299.90" stroke="#3a3a3a" stroke-width="0.9" />
</svg></body></html>
